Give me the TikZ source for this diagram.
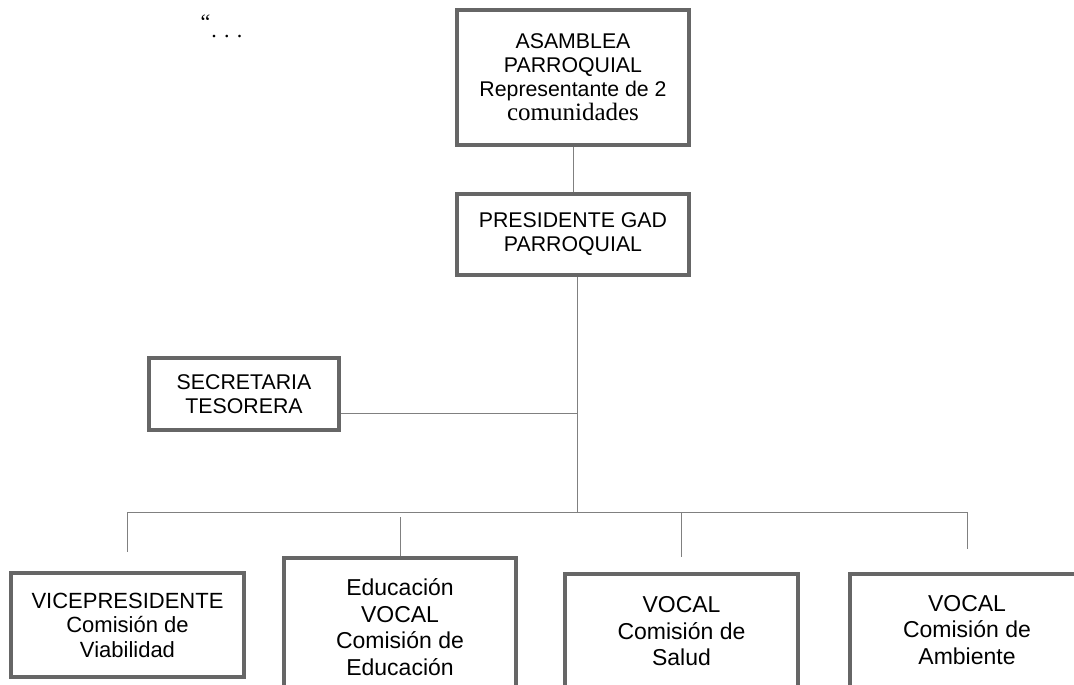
\documentclass[tikz,border=0pt]{standalone}
\usepackage{fontspec}
\setmainfont{Liberation Sans}
\newfontfamily\timesfont{Liberation Serif}
\usetikzlibrary{positioning}

\begin{document}
\begin{tikzpicture}[x=1pt,y=-1pt,node distance=45pt,
  box/.style={draw=black!60,line width=4pt,align=center,inner sep=0pt,font=\fontsize{21.3}{24}\selectfont},
  low box/.style={box,font=\fontsize{23}{26.5}\selectfont},
  link/.style={draw=black!50,line width=1pt}]

	\useasboundingbox (0,0) rectangle (1074,685);

	\node[anchor=base west,font=\timesfont\fontsize{22}{26}\selectfont] (quote) at (197,38) {\raisebox{9pt}{“}\kern1pt. . .};

	\node[box,minimum width=232pt,minimum height=135pt] (asamblea) at (573,77.5)
		{ASAMBLEA\\PARROQUIAL\\Representante de 2\\{\timesfont\fontsize{25}{28}\selectfont comunidades}};
	\node[box,minimum width=232pt,minimum height=81pt] (presidente) [below=of asamblea] {PRESIDENTE GAD\\PARROQUIAL};
	\node[box,minimum width=190pt,minimum height=72pt] (secretaria) at (244,394) {SECRETARIA\\TESORERA};

	\node[box,font=\fontsize{22}{24.5}\selectfont,minimum width=233pt,minimum height=104pt] (vice) at (127.5,625)
		{VICEPRESIDENTE\\Comisión de\\Viabilidad};
	\node[low box,minimum width=232pt,minimum height=138pt] (educacion) at (400,627)
		{Educación\\VOCAL\\Comisión de\\Educación};
	\node[low box,minimum width=233pt,minimum height=115pt] (salud) at (681.5,631.5)
		{VOCAL\\Comisión de\\Salud};
	\node[low box,minimum width=234pt,minimum height=113pt] (ambiente) at (967,630)
		{VOCAL\\Comisión de\\Ambiente};

	\coordinate (hub) at (577,512);

	\draw[link] (asamblea) -- (presidente);
	\draw[link] (presidente.south -| hub) -- (hub);
	\draw[link] ([yshift=-19pt]secretaria.east) -- ([yshift=-19pt]secretaria.east -| hub);
	\draw[link] (vice.north |- hub) -- (ambiente.north |- hub);
	\foreach \n/\a/\b in {vice/0/19,educacion/5/0,salud/0/15,ambiente/0/23}
		\draw[link,shorten <=\a pt,shorten >=\b pt] (\n.north |- hub) -- (\n.north);
\end{tikzpicture}
\end{document}
